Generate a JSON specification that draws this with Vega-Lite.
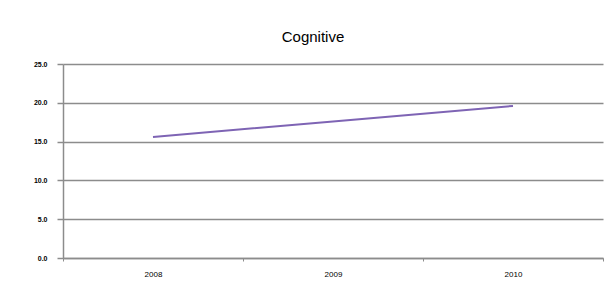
{
  "$schema": "https://vega.github.io/schema/vega-lite/v6.json",
  "autosize": "none",
  "width": 540,
  "height": 194,
  "padding": {"left": 63, "top": 64, "right": 10, "bottom": 33},
  "background": "white",
  "title": {
    "text": "Cognitive",
    "font": "Liberation Sans",
    "fontSize": 15,
    "fontWeight": "normal",
    "color": "#000000",
    "anchor": "middle",
    "dx": -20,
    "offset": 15
  },
  "data": {
    "values": [
      {"year": "2008", "value": 15.6},
      {"year": "2009", "value": 17.6},
      {"year": "2010", "value": 19.6}
    ]
  },
  "mark": {"type": "line", "color": "#7e64b4", "strokeWidth": 2},
  "encoding": {
    "x": {
      "field": "year",
      "type": "ordinal",
      "sort": null,
      "bandPosition": 0.5,
      "scale": {"type": "band", "paddingInner": 0, "paddingOuter": 0},
      "axis": {
        "title": null,
        "labelAngle": 0,
        "labelFont": "Liberation Sans",
        "labelFontSize": 8,
        "labelColor": "#000000",
        "labelPadding": 9,
        "domainColor": "#8c8c8c",
        "domainWidth": 1.5,
        "tickColor": "#8c8c8c",
        "tickSize": 3,
        "tickBand": "extent",
        "grid": false
      }
    },
    "y": {
      "field": "value",
      "type": "quantitative",
      "scale": {"domain": [0, 25], "nice": false},
      "axis": {
        "title": null,
        "values": [0, 5, 10, 15, 20, 25],
        "format": ".1f",
        "labelFont": "Liberation Sans",
        "labelFontSize": 7,
        "labelFontWeight": "bold",
        "labelColor": "#000000",
        "labelPadding": 10,
        "domainColor": "#8c8c8c",
        "domainWidth": 1.5,
        "tickColor": "#8c8c8c",
        "tickSize": 6,
        "tickWidth": 1.5,
        "grid": true,
        "gridColor": "#8c8c8c",
        "gridWidth": 1.5
      }
    }
  },
  "config": {
    "view": {"stroke": null}
  }
}
